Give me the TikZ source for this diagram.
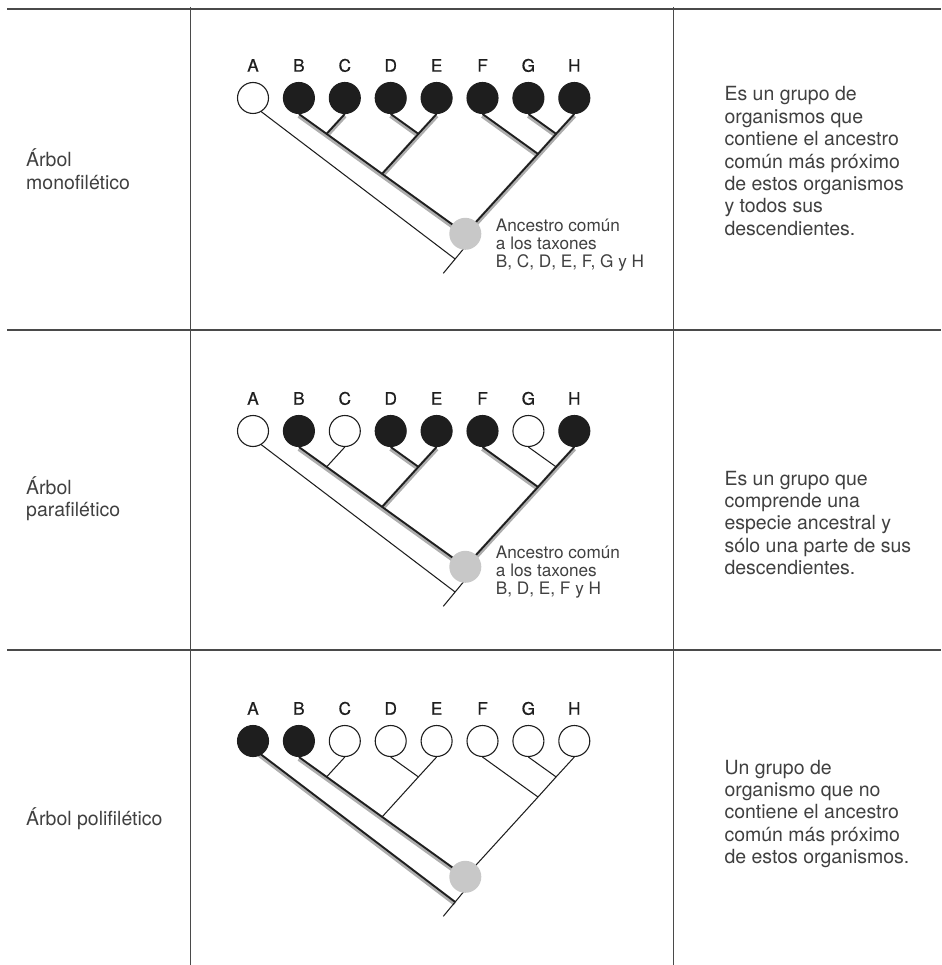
\documentclass[tikz,border=0pt]{standalone}
\usepackage{fontspec}
\setmainfont{TeX Gyre Heros}
\newfontfamily\medfont[FakeBold=0.6]{TeX Gyre Heros}
\usetikzlibrary{backgrounds}
\definecolor{ink}{HTML}{1E1E1E}
\definecolor{rulec}{HTML}{4A4A4A}
\definecolor{haloc}{HTML}{ADADAD}
\definecolor{ancc}{HTML}{C8C8C8}
\definecolor{txt}{HTML}{404040}
\tikzset{
  leaf/.style={circle, draw=ink, line width=1.1pt, minimum size=31pt, inner sep=0pt},
  anc/.style={circle, fill=ancc, minimum size=32pt, inner sep=0pt},
  lbl/.style={font=\medfont\fontsize{17.2}{17.2}\selectfont, text=ink, anchor=base, inner sep=0pt},
  rowtext/.style={font=\fontsize{19.5}{22.4}\selectfont, text=txt, anchor=base west, align=left, inner sep=0pt},
  anntext/.style={font=\fontsize{17.2}{18}\selectfont, text=txt, anchor=base west, align=left, inner sep=0pt},
  haloline/.style={draw=haloc, line width=4.6pt},
  hlline/.style={draw=ink, line width=1.8pt},
  thinline/.style={draw=ink, line width=1.05pt},
  tablerule/.style={draw=rulec, line width=1.4pt},
}
\newcommand\halopath[1]{\draw[haloline, transform canvas={yshift=-1.6pt}] #1;}
\newcommand\thickpath[1]{\draw[hlline] #1;}
\newcommand\thinpath[1]{\draw[thinline] #1;}
\newcommand\cladetree[3]{%
  \foreach \L/\x/\f in {#3}{%
    \node[leaf, fill=\f] (#1\L) at (\x,#2) {};
    \node[lbl] (#1\L lab) at (\x,#2-26.3) {\L};
  }
  \node[anc] (#1R) at (465.3,#2+135.8) {};
  \coordinate (#1J1) at (326.6,#2+35.9);
  \coordinate (#1J2) at (418.4,#2+35.9);
  \coordinate (#1J3) at (382.1,#2+75.9);
  \coordinate (#1J4) at (556.1,#2+35.9);
  \coordinate (#1J5) at (538.0,#2+56.0);
  \coordinate (#1A0) at (253.0,#2+7.4);
  \coordinate (#1J6) at (455.1,#2+161.0);
  \coordinate (#1S0) at (470.0,#2+143.0);
  \coordinate (#1S1) at (443.3,#2+175.3);
}
\begin{document}
\begin{tikzpicture}[x=1pt,y=-1pt]
\useasboundingbox (0,0) rectangle (941,965);
% table rules
\draw[tablerule] (7,9) coordinate (h1a) -- (941,9) coordinate (h1b);
\draw[tablerule] (7,330) coordinate (h2a) -- (941,330) coordinate (h2b);
\draw[tablerule] (7,650) coordinate (h3a) -- (941,650) coordinate (h3b);
\draw[tablerule] (190.7,7) coordinate (v1a) -- (190.7,965) coordinate (v1b);
\draw[tablerule] (673.7,7) coordinate (v2a) -- (673.7,965) coordinate (v2b);

% ---------- row 1: monophyletic ----------
\cladetree{a}{98}{A/253/white, B/298.9/ink, C/344.8/ink, D/390.7/ink, E/436.6/ink, F/482.5/ink, G/528.4/ink, H/574.3/ink}
\begin{scope}[on background layer]
  \halopath{(aB.south) -- (aJ1) -- (aJ3) -- (aR.center)}
  \halopath{(aC.south) -- (aJ1)}
  \halopath{(aD.south) -- (aJ2)}
  \halopath{(aE.south) -- (aJ2) -- (aJ3)}
  \halopath{(aF.south) -- (aJ5)}
  \halopath{(aG.south) -- (aJ4)}
  \halopath{(aH.south) -- (aJ4) -- (aJ5) -- (aR.center)}
  \thickpath{(aB.south) -- (aJ1) -- (aJ3) -- (aR.center)}
  \thickpath{(aC.south) -- (aJ1)}
  \thickpath{(aD.south) -- (aJ2)}
  \thickpath{(aE.south) -- (aJ2) -- (aJ3)}
  \thickpath{(aF.south) -- (aJ5)}
  \thickpath{(aG.south) -- (aJ4)}
  \thickpath{(aH.south) -- (aJ4) -- (aJ5) -- (aR.center)}
  \thinpath{(aA0) -- (aJ6)}
  \thinpath{(aS0) -- (aS1)}
\end{scope}
\node[anntext] (aann) at (495.7,268) {Ancestro común\\a los taxones\\B, C, D, E, F, G y H};
\node[rowtext] (aname) at (26,189.1) {Árbol\\monofilético};
\node[rowtext] (adesc) at (724.3,235.4) {Es un grupo de\\organismos que\\contiene el ancestro\\común más próximo\\de estos organismos\\y todos sus\\descendientes.};

% ---------- row 2: paraphyletic ----------
\cladetree{b}{431}{A/253/white, B/298.9/ink, C/344.8/white, D/390.7/ink, E/436.6/ink, F/482.5/ink, G/528.4/white, H/574.3/ink}
\begin{scope}[on background layer]
  \halopath{(bB.south) -- (bJ1) -- (bJ3) -- (bR.center)}
  \halopath{(bD.south) -- (bJ2)}
  \halopath{(bE.south) -- (bJ2) -- (bJ3)}
  \halopath{(bF.south) -- (bJ5)}
  \halopath{(bH.south) -- (bJ4) -- (bJ5) -- (bR.center)}
  \thickpath{(bB.south) -- (bJ1) -- (bJ3) -- (bR.center)}
  \thinpath{(bC.south) -- (bJ1)}
  \thickpath{(bD.south) -- (bJ2)}
  \thickpath{(bE.south) -- (bJ2) -- (bJ3)}
  \thickpath{(bF.south) -- (bJ5)}
  \thinpath{(bG.south) -- (bJ4)}
  \thickpath{(bH.south) -- (bJ4) -- (bJ5) -- (bR.center)}
  \thinpath{(bA0) -- (bJ6)}
  \thinpath{(bS0) -- (bS1)}
\end{scope}
\node[anntext] (bann) at (495.7,594) {Ancestro común\\a los taxones\\B, D, E, F y H};
\node[rowtext] (bname) at (26,516.4) {Árbol\\parafilético};
\node[rowtext] (bdesc) at (724.3,574.6) {Es un grupo que\\comprende una\\especie ancestral y\\sólo una parte de sus\\descendientes.};

% ---------- row 3: polyphyletic ----------
\cladetree{c}{741}{A/253/ink, B/298.9/ink, C/344.8/white, D/390.7/white, E/436.6/white, F/482.5/white, G/528.4/white, H/574.3/white}
\begin{scope}[on background layer]
  \halopath{(cB.south) -- (cJ1) -- (cJ3) -- (cR.center)}
  \halopath{(cA0) -- (cJ6)}
  \thickpath{(cB.south) -- (cJ1) -- (cJ3) -- (cR.center)}
  \thickpath{(cA0) -- (cJ6)}
  \thinpath{(cC.south) -- (cJ1)}
  \thinpath{(cD.south) -- (cJ2)}
  \thinpath{(cE.south) -- (cJ2) -- (cJ3)}
  \thinpath{(cF.south) -- (cJ5)}
  \thinpath{(cG.south) -- (cJ4)}
  \thinpath{(cH.south) -- (cJ4) -- (cJ5) -- (cR.center)}
  \thinpath{(cS0) -- (cS1)}
\end{scope}
\node[rowtext] (cname) at (26,825) {Árbol polifilético};
\node[rowtext] (cdesc) at (724.3,863.6) {Un grupo de\\organismo que no\\contiene el ancestro\\común más próximo\\de estos organismos.};
\end{tikzpicture}
\end{document}
